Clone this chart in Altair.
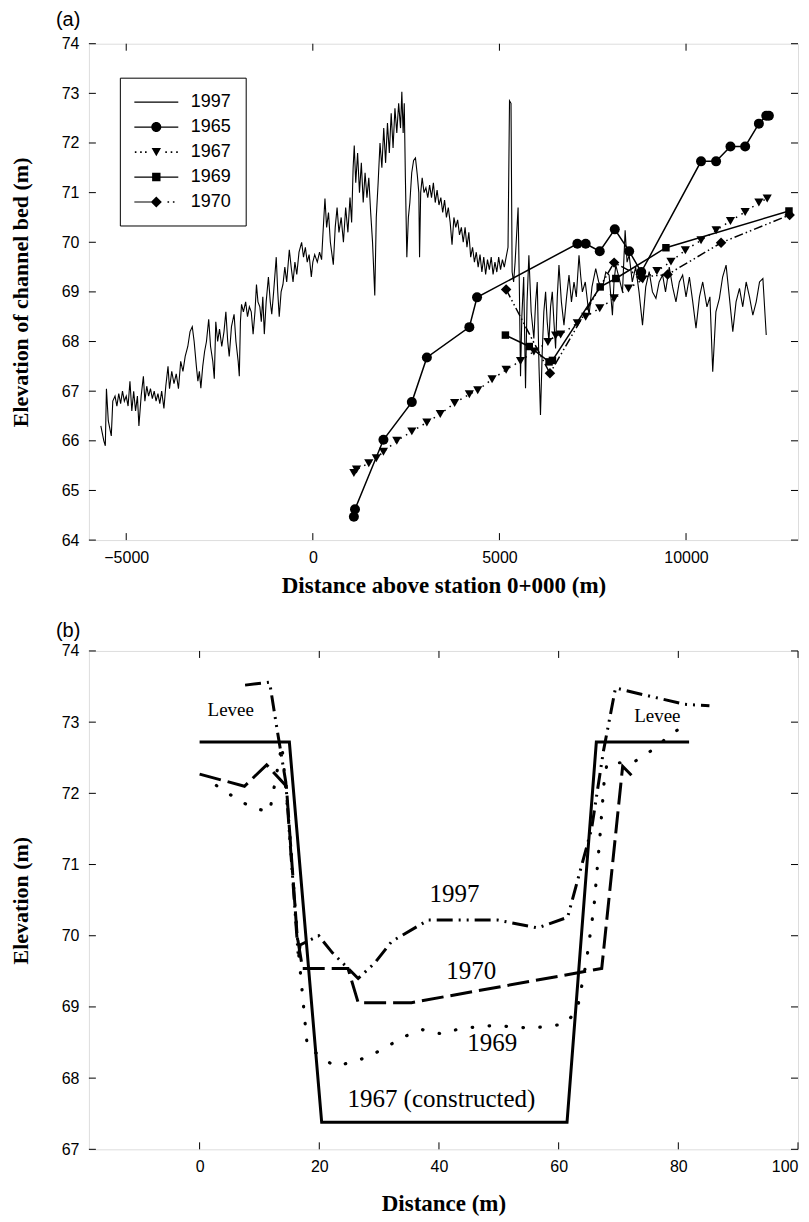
import altair as alt
import pandas as pd

SANS = "Liberation Sans"
SERIF = "Liberation Serif"

# ---------------- Panel (a): longitudinal profiles ----------------
p1997_dist = [-5680, -5600, -5560, -5530, -5480, -5400, -5360, -5300, -5250, -5200, -5150, -5100, -5050, -5000,
              -4950, -4900, -4850, -4800, -4750, -4700, -4660, -4600, -4540, -4500, -4450, -4400, -4350, -4300,
              -4250, -4200, -4150, -4100, -4050, -3990, -3940, -3880, -3840, -3780, -3720, -3660, -3600, -3540,
              -3480, -3420, -3350, -3290, -3230, -3180, -3120, -3080, -3040, -3000, -2950, -2900, -2850, -2790,
              -2740, -2680, -2640, -2600, -2550, -2500, -2440, -2380, -2330, -2280, -2240, -2180, -2110, -2060,
              -2000, -1970, -1940, -1910, -1860, -1800, -1750, -1700, -1650, -1600, -1550, -1510, -1470, -1420,
              -1380, -1340, -1300, -1250, -1190, -1140, -1100, -1050, -980, -940, -900, -850, -800, -750, -700,
              -630, -580, -530, -480, -430, -370, -300, -250, -200, -150, -100, -40, 0, 50, 120, 180, 235, 270,
              325, 370, 420, 470, 549, 600, 650, 700, 760, 820, 880, 940, 996, 1040, 1080, 1110, 1150, 1200, 1250,
              1300, 1350, 1400, 1450, 1500, 1550, 1600, 1660, 1700, 1750, 1800, 1850, 1900, 1950, 2000, 2050, 2100,
              2150, 2200, 2250, 2300, 2350, 2385, 2420, 2450, 2480, 2519, 2560, 2600, 2650, 2700, 2750, 2800, 2840,
              2860, 2890, 2930, 2980, 3030, 3080, 3130, 3180, 3230, 3280, 3330, 3380, 3430, 3480, 3530, 3580, 3630,
              3680, 3730, 3780, 3830, 3880, 3930, 3980, 4030, 4080, 4130, 4180, 4230, 4280, 4330, 4380, 4430, 4480,
              4530, 4580, 4630, 4680, 4730, 4780, 4830, 4880, 4930, 4980, 5030, 5080, 5130, 5180, 5230, 5270, 5310,
              5340, 5380, 5420, 5500, 5530, 5565, 5600, 5650, 5699, 5740, 5789, 5850, 5923, 5970, 6013, 6060, 6100,
              6147, 6190, 6237, 6280, 6326, 6370, 6416, 6460, 6505, 6550, 6595, 6660, 6729, 6800, 6864, 6930, 6998,
              7060, 7132, 7180, 7222, 7300, 7401, 7480, 7580, 7660, 7759, 7850, 7938, 8028, 8070, 8118, 8200, 8297,
              8368, 8420, 8476, 8560, 8650, 8740, 8834, 8920, 9013, 9100, 9193, 9280, 9372, 9450, 9550, 9640, 9730,
              9820, 9909, 10000, 10090, 10180, 10267, 10360, 10447, 10560, 10640, 10715, 10800, 10894, 10980, 11073,
              11160, 11253, 11340, 11432, 11520, 11611, 11700, 11790, 11880, 11969, 12059, 12149]
p1997_elev = [66.3, 66.0, 65.9, 67.05, 66.4, 66.1, 66.8, 66.9, 66.7, 66.95, 66.75, 67.0, 66.8, 66.9,
              66.7, 67.2, 66.6, 67.0, 66.6, 66.9, 66.3, 66.9, 67.3, 66.8, 67.1, 66.9, 67.05, 66.85,
              67.0, 66.8, 66.95, 66.75, 67.0, 66.65, 67.1, 67.5, 67.05, 67.4, 67.15, 67.35, 67.05, 67.6,
              67.4, 67.7, 67.9, 68.2, 68.3, 68.0, 67.5, 67.2, 67.4, 67.06, 67.5, 67.8, 68.0, 68.45,
              67.9, 67.6, 67.25, 68.4, 68.0, 68.25, 67.9, 68.2, 68.6, 68.0, 67.7, 68.3, 68.55, 68.0,
              67.6, 67.3, 68.4, 68.75, 68.6, 68.8, 68.5, 68.7, 68.6, 68.15, 68.6, 69.15, 68.8, 68.7,
              68.4, 68.9, 68.15, 68.8, 69.3, 68.8, 68.55, 69.0, 69.7, 69.0, 68.5, 69.0, 69.15, 69.5, 69.2,
              69.85, 69.5, 69.2, 69.6, 69.35, 69.8, 70.0, 69.7, 69.9, 69.6, 69.75, 69.3, 69.6, 69.75, 69.6, 69.8, 69.65, 70.15,
              70.88, 70.3, 70.6, 70.0, 69.55, 70.3, 70.7, 70.2, 70.5, 70.0, 70.7, 70.2, 70.9, 70.4, 71.5, 71.95, 71.2, 71.8, 71.0,
              71.6, 70.8, 71.4, 70.9, 71.3, 70.6, 70.0, 68.93, 70.5, 71.2, 72.0, 71.5, 72.3, 71.6, 72.4, 71.8, 72.6,
              71.9, 72.7, 72.2, 72.8, 72.3, 73.03, 72.2, 72.8, 71.3, 69.7, 70.5, 70.8, 71.4, 71.65, 71.7, 71.35, 71.0,
              69.7, 71.0, 71.3, 71.0, 71.1, 70.9, 71.15, 70.9, 71.2, 70.8, 71.05, 70.75, 70.9, 70.6, 70.85, 70.5, 70.7,
              70.4, 69.95, 70.5, 70.3, 70.45, 70.15, 70.3, 70.0, 70.3, 69.9, 70.2, 69.7, 69.9, 69.6, 69.8, 69.5, 69.75,
              69.4, 69.7, 69.35, 69.65, 69.45, 69.7, 69.35, 69.6, 69.4, 69.7, 69.45, 69.65, 69.5, 69.7, 69.9, 72.85, 72.8,
              69.4, 69.2, 69.6, 70.7, 69.3, 67.3, 68.5, 69.3, 67.06, 68.8, 69.74, 68.6, 68.06, 68.8, 69.2, 67.5, 66.52,
              67.8, 68.6, 69.0, 68.4, 68.0, 68.7, 69.0, 68.4, 67.86, 68.9, 69.54, 68.8, 68.33, 68.9, 69.34, 68.8, 69.2,
              68.9, 69.74, 69.3, 69.0, 69.2, 68.53, 69.1, 69.47, 69.2, 69.07, 69.4, 69.34, 68.53, 69.2, 69.54, 69.3, 69.0,
              70.24, 69.6, 69.74, 69.2, 69.5, 69.0, 68.33, 69.1, 69.41, 69.0, 68.87, 69.2, 69.34, 69.0, 69.5, 69.1, 68.8,
              69.2, 69.34, 68.9, 69.3, 68.8, 68.27, 68.9, 69.2, 68.7, 68.9, 67.39, 68.6, 68.87, 69.3, 69.54,
              68.9, 68.2, 68.8, 69.07, 68.7, 69.2, 68.9, 68.53, 68.8, 69.2, 69.27, 68.13]

p1965_dist = [1100, 1130, 1892, 2653, 3056, 4194, 4400, 7088, 7311, 7688, 8091, 8476, 8800,
              10402, 10805, 11190, 11584, 11952, 12149, 12220]
p1965_elev = [64.47, 64.62, 66.02, 66.78, 67.68, 68.29, 68.89, 69.97, 69.97, 69.82, 70.26, 69.82, 69.4,
              71.63, 71.63, 71.93, 71.93, 72.39, 72.55, 72.55]

p1967_dist = [1100, 1170, 1500, 1700, 1892, 2250, 2653, 3056, 3415, 3800, 4194, 4418, 4803, 5179, 5565,
              5923, 6299, 6505, 6640, 7087, 7311, 7688, 8073, 8458, 8840, 9220, 9596, 9981, 10402, 10805,
              11190, 11584, 11952, 12175]
p1967_elev = [65.35, 65.42, 65.55, 65.65, 65.78, 66.0, 66.19, 66.37, 66.54, 66.76, 66.94, 67.02, 67.24, 67.43, 67.61,
              67.8, 67.99, 68.12, 68.14, 68.37, 68.5, 68.67, 68.87, 69.07, 69.25, 69.42, 69.61, 69.84, 70.04, 70.24,
              70.43, 70.61, 70.8, 70.88]

p1969_dist = [5160, 5800, 6330, 6420, 7700, 8118, 9461, 12758]
p1969_elev = [68.13, 67.9, 67.59, 67.62, 69.1, 69.27, 69.89, 70.63]

p1970_dist = [5179, 6353, 8073, 8800, 9506, 10939, 12776]
p1970_elev = [69.05, 67.36, 69.59, 69.3, 69.35, 69.99, 70.55]

legend_years = ["1997", "1965", "1967", "1969", "1970"]

xticks_a = [-5000, 0, 5000, 10000]
yticks_a = [64, 65, 66, 67, 68, 69, 70, 71, 72, 73, 74]

# ---------------- Panel (b): cross sections ----------------
b1967_x = [0, 15.0, 20.4, 61.4, 66.3, 81.8]
b1967_y = [72.72, 72.72, 67.38, 67.38, 72.72, 72.72]

b1997_x = [7.6, 11.7, 13.0, 14.4, 16.5, 16.8, 19.9, 22.2, 26.5, 29.3, 32.1, 38.2, 49.8, 56.5, 61.5,
           65.5, 67.5, 69.5, 72.4, 81.1, 85.2]
b1997_y = [73.52, 73.56, 72.87, 72.16, 69.7, 69.87, 70.0, 69.76, 69.4, 69.62, 69.92, 70.22, 70.22, 70.11, 70.26,
           71.5, 72.6, 73.48, 73.42, 73.25, 73.23]

b1970_x = [0, 7.5, 11.2, 14.5, 16.3, 17.2, 24.8, 26.5, 35.4, 67.2, 70.7, 72.8]
b1970_y = [72.27, 72.1, 72.4, 72.1, 70.0, 69.54, 69.54, 69.06, 69.06, 69.54, 72.38, 72.2]

b1969_x = [2.8, 5.7, 8.7, 11.7, 13.75, 15.0, 16.5, 18.0, 22.5, 25.4, 28.5, 31.2, 34.4, 37.3, 40.5, 43.3,
           46.3, 49.3, 52.4, 55.4, 58.2, 61.1, 63.1, 64.6, 65.9, 66.9, 67.6, 68.1, 72.4, 75.5, 78.7, 81.7]
b1969_y = [72.11, 71.95, 71.8, 71.74, 72.68, 71.5, 69.8, 68.44, 68.17, 68.22, 68.31, 68.44, 68.59, 68.68, 68.62,
           68.69, 68.72, 68.74, 68.72, 68.7, 68.73, 68.76, 68.96, 69.62, 70.4, 71.39, 72.16, 72.43, 72.43, 72.6,
           72.82, 73.0]

ann_text = ["Levee", "Levee", "1997", "1970", "1969", "1967 (constructed)"]
ann_x = [5.2, 76.5, 42.6, 45.4, 48.9, 40.4]
ann_y = [73.17, 73.09, 70.59, 69.51, 68.5, 67.71]

xticks_b = [0, 20, 40, 60, 80, 100]
yticks_b = [67, 68, 69, 70, 71, 72, 73, 74]

# ---------------- helpers ----------------
W = 710
HA = 497
HB = 499
TICK = 7


def frame(xs, ys):
    return pd.DataFrame({"dist": xs, "elev": ys})


def ax(orient, values, title, label_pad, title_pad, title_size):
    return alt.Axis(orient=orient, values=values, title=title, format="d",
                    domain=False, grid=False, ticks=False, tickSize=0,
                    labelPadding=label_pad, labelFont=SANS, labelFontSize=16, labelColor="black",
                    titleFont=SERIF, titleFontSize=title_size, titleFontWeight="bold", titleColor="black",
                    titlePadding=title_pad)


def inward_ticks(xvals, yvals, xs, ys, h):
    tx = pd.DataFrame({"v": xvals})
    ty = pd.DataFrame({"v": yvals})
    rule = dict(color="black", strokeWidth=1)
    bottom = alt.Chart(tx).mark_rule(**rule).encode(
        x=alt.X("v:Q", scale=xs, axis=None), y=alt.value(h), y2=alt.value(h - TICK))
    top = alt.Chart(tx).mark_rule(**rule).encode(
        x=alt.X("v:Q", scale=xs, axis=None), y=alt.value(0), y2=alt.value(TICK))
    left = alt.Chart(ty).mark_rule(**rule).encode(
        y=alt.Y("v:Q", scale=ys, axis=None), x=alt.value(0), x2=alt.value(TICK))
    right = alt.Chart(ty).mark_rule(**rule).encode(
        y=alt.Y("v:Q", scale=ys, axis=None), x=alt.value(W), x2=alt.value(W - TICK))
    return [bottom, top, left, right]


# ---------------- Panel (a) chart ----------------
xs_a = alt.Scale(domain=[-6000, 13000], nice=False, zero=False)
ys_a = alt.Scale(domain=[64, 74], nice=False, zero=False)

df97 = frame(p1997_dist, p1997_elev)
df65 = frame(p1965_dist, p1965_elev)
df67 = frame(p1967_dist, p1967_elev)
df69 = frame(p1969_dist, p1969_elev)
df70 = frame(p1970_dist, p1970_elev)


def enc_a():
    return dict(x=alt.X("dist:Q", scale=xs_a, axis=None), y=alt.Y("elev:Q", scale=ys_a, axis=None))


main97 = alt.Chart(df97).mark_line(color="black", strokeWidth=1.1).encode(
    x=alt.X("dist:Q", scale=xs_a, axis=ax("bottom", xticks_a, "Distance above station 0+000 (m)", 9, 9, 23)),
    y=alt.Y("elev:Q", scale=ys_a, axis=ax("left", yticks_a, "Elevation of channel bed (m)", 10, 29, 22)),
)

l65 = alt.Chart(df65).mark_line(color="black", strokeWidth=1.5).encode(**enc_a())
m65 = alt.Chart(df65).mark_point(filled=True, color="black", opacity=1, shape="circle", size=100).encode(**enc_a())
l67 = alt.Chart(df67).mark_line(color="black", strokeWidth=1.5, strokeDash=[1.5, 5]).encode(**enc_a())
m67 = alt.Chart(df67).mark_point(filled=True, color="black", opacity=1, shape="triangle-down", size=85).encode(**enc_a())
l69 = alt.Chart(df69).mark_line(color="black", strokeWidth=1.5).encode(**enc_a())
m69 = alt.Chart(df69).mark_point(filled=True, color="black", opacity=1, shape="square", size=56).encode(**enc_a())
l70 = alt.Chart(df70).mark_line(color="black", strokeWidth=1.5, strokeDash=[9, 3, 1.5, 3, 1.5, 3]).encode(**enc_a())
m70 = alt.Chart(df70).mark_point(filled=True, color="black", opacity=1, shape="diamond", size=110).encode(**enc_a())


# legend glyphs (filled shapes only), unit-box coordinates
def dots(xs):
    return "".join(f"M{x - 0.08:.2f},-0.08h0.16v0.16h-0.16Z" for x in xs)


def bar(x0, x1):
    return f"M{x0},-0.06L{x1},-0.06L{x1},0.06L{x0},0.06Z"


glyph_1997 = bar(-2.2, 2.2)
glyph_1965 = bar(-2.2, 2.2) + "M0.5,0A0.5,0.5,0,1,1,-0.5,0A0.5,0.5,0,1,1,0.5,0Z"
glyph_1967 = dots([-2.07, -1.54, -1.05]) + "M-0.47,-0.4L0.47,-0.4L0,0.42Z" + dots([0.98, 1.52, 2.07])
glyph_1969 = bar(-2.2, 2.2) + "M-0.42,-0.42h0.84v0.84h-0.84Z"
glyph_1970 = bar(-2.2, -0.5) + "M0,-0.55L0.55,0L0,0.55L-0.55,0Z" + dots([1.2, 1.74])

legend_df = pd.DataFrame({"year": legend_years, "dist": [0] * 5, "elev": [70] * 5})
legend_layer = alt.Chart(legend_df).transform_filter("false").mark_point(
    filled=True, fill="black", stroke="black", strokeWidth=0.4
).encode(
    x=alt.X("dist:Q", scale=xs_a, axis=None),
    y=alt.Y("elev:Q", scale=ys_a, axis=None),
    shape=alt.Shape(
        "year:N",
        scale=alt.Scale(domain=legend_years,
                        range=[glyph_1997, glyph_1965, glyph_1967, glyph_1969, glyph_1970]),
        legend=alt.Legend(
            title=None, orient="none", legendX=31, legendY=34,
            symbolSize=400, symbolFillColor="black", symbolStrokeColor="black", symbolStrokeWidth=0.4,
            symbolOpacity=1, symbolOffset=12,
            labelFont=SANS, labelFontSize=18, labelColor="black", labelOffset=24,
            labelExpr="datum.label + '\u00a0\u00a0\u00a0'",
            rowPadding=5, padding=14, strokeColor="black", fillColor="white",
        ),
    ),
)

panel_a = alt.layer(
    main97, l65, l67, l69, l70, m65, m67, m69, m70,
    *inward_ticks(xticks_a, yticks_a, xs_a, ys_a, HA),
    legend_layer,
).resolve_axis(x="independent", y="independent").properties(
    width=W, height=HA,
    title=alt.TitleParams("(a)", anchor="start", frame="group", dx=-33, fontSize=20,
                          font=SANS, fontWeight="normal", color="black", offset=6),
)

# ---------------- Panel (b) chart ----------------
xs_b = alt.Scale(domain=[-18.5, 100], nice=False, zero=False)
ys_b = alt.Scale(domain=[67, 74], nice=False, zero=False)

db67 = frame(b1967_x, b1967_y)
db97 = frame(b1997_x, b1997_y)
db70 = frame(b1970_x, b1970_y)
db69 = frame(b1969_x, b1969_y)
dann = pd.DataFrame({"label": ann_text, "dist": ann_x, "elev": ann_y})


def enc_b():
    return dict(x=alt.X("dist:Q", scale=xs_b, axis=None), y=alt.Y("elev:Q", scale=ys_b, axis=None))


bl67 = alt.Chart(db67).mark_line(color="black", strokeWidth=3).encode(
    x=alt.X("dist:Q", scale=xs_b, axis=ax("bottom", xticks_b, "Distance (m)", 9, 18, 23)),
    y=alt.Y("elev:Q", scale=ys_b, axis=ax("left", yticks_b, "Elevation (m)", 10, 29, 22)),
)
bl97 = alt.Chart(db97).mark_line(color="black", strokeWidth=3, strokeDash=[16, 6, 2, 6, 2, 6]).encode(**enc_b())
bl70 = alt.Chart(db70).mark_line(color="black", strokeWidth=3, strokeDash=[22, 7]).encode(**enc_b())
bl69 = alt.Chart(db69).mark_line(color="black", strokeWidth=3.2, strokeDash=[0.5, 16.5], strokeCap="round").encode(**enc_b())

big = dann[dann["label"] != "Levee"]
small = dann[dann["label"] == "Levee"]
txt_big = alt.Chart(big).mark_text(font=SERIF, fontSize=25, color="black").encode(
    text="label:N", **enc_b())
txt_small = alt.Chart(small).mark_text(font=SERIF, fontSize=19, color="black").encode(
    text="label:N", **enc_b())

panel_b = alt.layer(
    bl67, bl97, bl70, bl69, txt_big, txt_small,
    *inward_ticks(xticks_b, yticks_b, xs_b, ys_b, HB),
).resolve_axis(x="independent", y="independent").properties(
    width=W, height=HB,
    title=alt.TitleParams("(b)", anchor="start", frame="group", dx=-33, fontSize=20,
                          font=SANS, fontWeight="normal", color="black", offset=2),
)

chart = alt.vconcat(panel_a, panel_b, spacing=22).properties(
    padding={"left": 0, "top": 0, "right": 2, "bottom": 0}
).configure_view(stroke="black", strokeWidth=1.2).configure(background="white")

chart.save("out.html", embed_options={"renderer": "svg", "actions": False})
